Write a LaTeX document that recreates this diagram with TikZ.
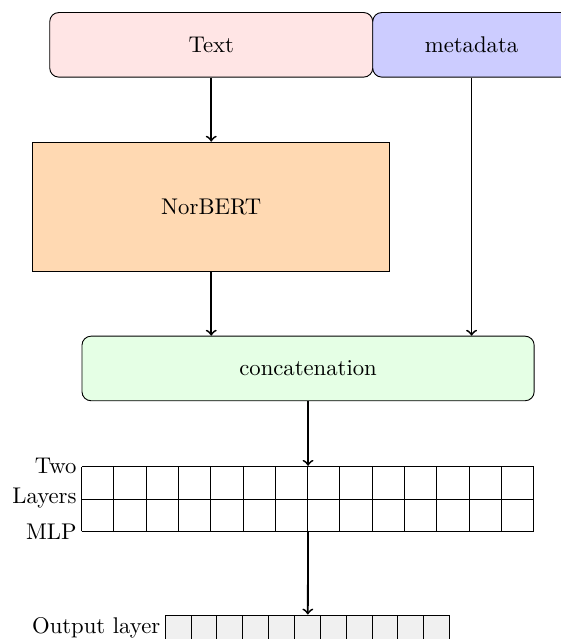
\documentclass[tikz,border=0pt]{standalone}
\usetikzlibrary{calc}

\tikzset{
  block/.style={draw, inner sep=0pt, align=center},
  roundblock/.style={block, rounded corners=4pt},
  flow/.style={->, thick},
  sidelabel/.style={anchor=east, inner sep=2pt},
}

\begin{document}
\begin{tikzpicture}
  \useasboundingbox (0,0) rectangle (8.669,-9.892);

  % inputs
  \node[roundblock, fill=red!10, minimum width=5cm, minimum height=1cm]
    (text) at (3.27,-0.694) {Text};
  \node[roundblock, fill=blue!20, minimum width=3.06cm, minimum height=1cm]
    (meta) at (7.30,-0.694) {metadata};

  % encoder
  \node[block, fill=orange!30, minimum width=5.52cm, minimum height=2cm]
    (norbert) at (3.27,-3.2) {NorBERT};

  % fusion
  \node[roundblock, fill=green!10, minimum width=7cm, minimum height=1cm]
    (concat) at (4.769,-5.704) {concatenation};

  % two-layer MLP: 14 x 2 grid of units
  \node[inner sep=0pt, minimum width=7cm, minimum height=1cm]
    (mlp) at (4.769,-7.718) {};
  \begin{scope}[shift={(mlp.south west)}]
    \draw (0,0) grid[step=0.5] (7,1);
  \end{scope}
  \node[sidelabel] (mlpa) at (mlp.north west) {Two};
  \node[sidelabel] (mlpb) at (mlp.west) {Layers};
  \node[sidelabel] (mlpc) at (mlp.south west) {MLP};

  % output layer: 11 units
  \node[draw, fill=black!6, inner sep=0pt, minimum width=4.4cm, minimum height=0.4cm]
    (out) at (4.765,-9.72) {};
  \foreach \i in {1,...,10}
    \draw ($(out.south west)+(0.4*\i,0)$) -- ++(0,0.4);
  \node[sidelabel] (outlbl) at (out.west) {Output layer};

  % connections
  \draw[flow] (text.south) -- (norbert.north);
  \draw[flow] (norbert.south) -- (norbert.south |- concat.north);
  \draw[flow] (meta.south) -- (meta.south |- concat.north);
  \draw[flow] (concat.south) -- (mlp.north);
  \draw[flow] (mlp.south) -- (out.north);
\end{tikzpicture}
\end{document}
